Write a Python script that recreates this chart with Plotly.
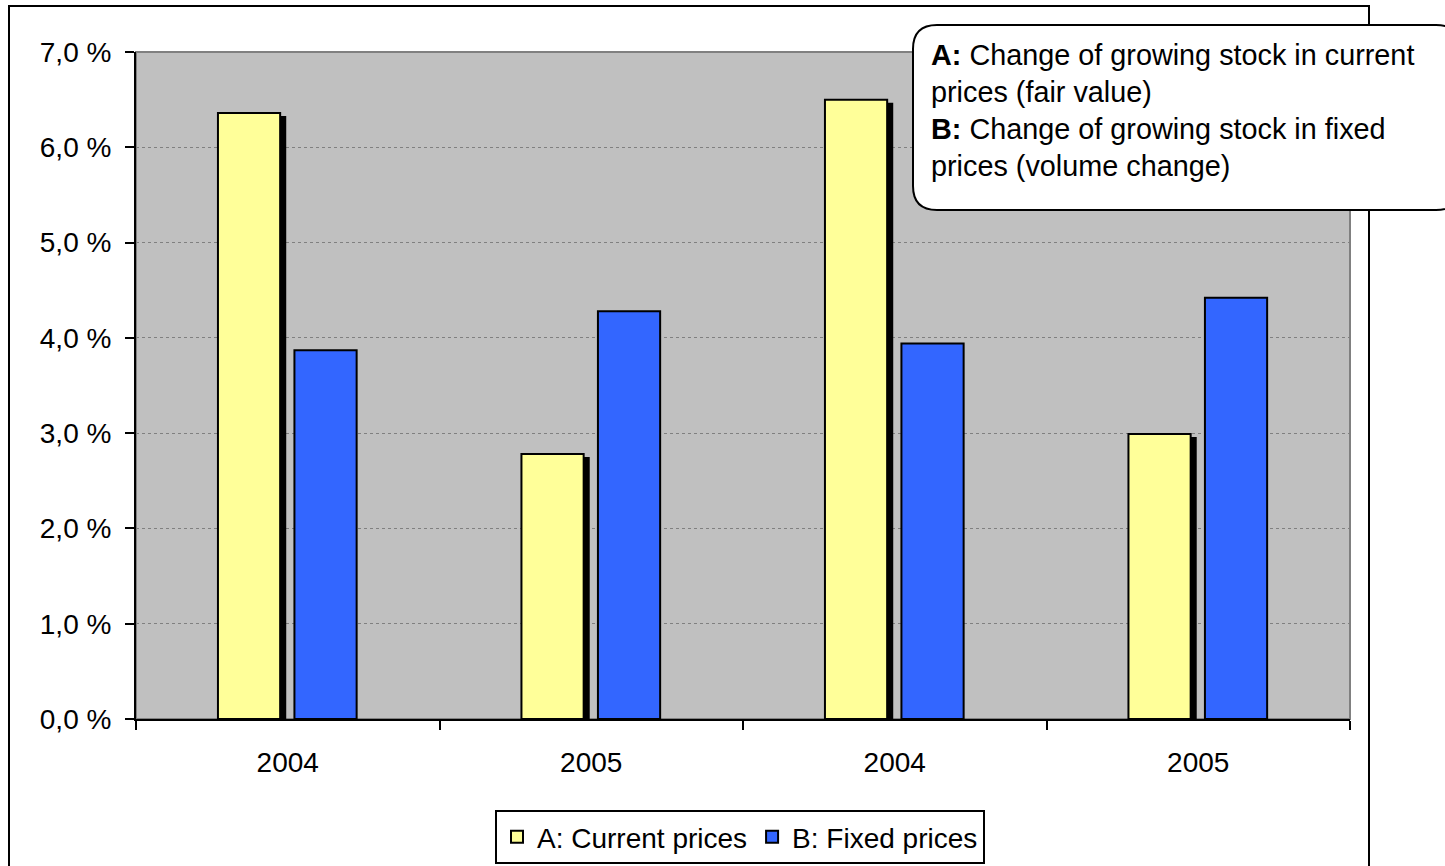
import plotly.graph_objects as go

categories = ["2004", "2005", "2004", "2005"]
current_prices = [6.36, 2.78, 6.50, 2.99]
fixed_prices = [3.87, 4.28, 3.94, 4.42]
y_ticks = [0, 1, 2, 3, 4, 5, 6, 7]
y_ticktext = ["0,0 %", "1,0 %", "2,0 %", "3,0 %", "4,0 %", "5,0 %", "6,0 %", "7,0 %"]
box_lines = [
    "<b>A:</b> Change of growing stock in current",
    "prices (fair value)",
    "<b>B:</b> Change of growing stock in fixed",
    "prices (volume change)",
]

W, H = 1445, 866
L, R, T, B = 136, 1350, 52, 719
FONT = "Liberation Sans, Arial, sans-serif"
FS = 28


def px(x):
    return (x - L) / (R - L)


def py(y):
    return (B - y) / (B - T)


xpos = list(range(len(categories)))
bw = 0.205
shadow_dy = 3 / ((B - T) / 7)

fig = go.Figure()
fig.add_trace(go.Bar(
    x=xpos, y=[v - shadow_dy for v in current_prices], width=bw, offset=-0.21,
    marker=dict(color="black", line=dict(width=0)), showlegend=False, hoverinfo="skip"))
fig.add_trace(go.Bar(
    x=xpos, y=current_prices, width=bw, offset=-0.23, name="A: Current prices",
    marker=dict(color="#FFFF99", line=dict(color="black", width=2))))
fig.add_trace(go.Bar(
    x=xpos, y=fixed_prices, width=bw, offset=0.022, name="B: Fixed prices",
    marker=dict(color="#3366FF", line=dict(color="black", width=2))))

shapes = []
# outer chart border
shapes.append(dict(type="rect", xref="paper", yref="paper",
                   x0=px(9), x1=px(1369), y0=py(875), y1=py(6),
                   line=dict(color="black", width=2), fillcolor="rgba(0,0,0,0)", layer="below"))
# plot area border (gray)
shapes.append(dict(type="rect", xref="paper", yref="paper",
                   x0=0, x1=1, y0=0, y1=1,
                   line=dict(color="#808080", width=2), fillcolor="rgba(0,0,0,0)", layer="below"))
# rounded annotation box
x0, x1, y0, y1, r = 913, 1460, 25, 210, 24
path = (f"M {px(x0 + r)},{py(y0)} L {px(x1 - r)},{py(y0)} "
        f"Q {px(x1)},{py(y0)} {px(x1)},{py(y0 + r)} "
        f"L {px(x1)},{py(y1 - r)} Q {px(x1)},{py(y1)} {px(x1 - r)},{py(y1)} "
        f"L {px(x0 + r)},{py(y1)} Q {px(x0)},{py(y1)} {px(x0)},{py(y1 - r)} "
        f"L {px(x0)},{py(y0 + r)} Q {px(x0)},{py(y0)} {px(x0 + r)},{py(y0)} Z")
shapes.append(dict(type="path", xref="paper", yref="paper", path=path,
                   line=dict(color="black", width=2), fillcolor="white", layer="above"))

annotations = []
line_y = [55, 92, 129, 166]
for txt, yy in zip(box_lines, line_y):
    annotations.append(dict(xref="paper", yref="paper", x=px(929), y=py(yy),
                            xanchor="left", yanchor="middle", text=txt, showarrow=False,
                            font=dict(family=FONT, size=28.8, color="black")))

fig.update_layout(
    width=W, height=H,
    margin=dict(l=L, r=W - R, t=T, b=H - B, autoexpand=False),
    paper_bgcolor="white", plot_bgcolor="#C0C0C0",
    barmode="overlay",
    font=dict(family=FONT, size=FS, color="black"),
    shapes=shapes, annotations=annotations,
    legend=dict(orientation="h", xref="container", yref="container",
                x=740 / W, xanchor="center", y=1 - 810 / H, yanchor="top",
                bordercolor="black", borderwidth=2, bgcolor="white",
                font=dict(family=FONT, size=FS, color="black"),
                itemwidth=30, tracegroupgap=0),
    xaxis=dict(range=[-0.5, 3.5], tickmode="array", tickvals=xpos, ticktext=categories,
               ticks="", showgrid=False, zeroline=False, automargin=False,
               showline=True, linecolor="black", linewidth=2,
               ticklabelstandoff=17,
               minor=dict(tickmode="array", tickvals=[-0.5, 0.5, 1.5, 2.5, 3.5],
                          ticks="outside", ticklen=9, tickwidth=2, tickcolor="black",
                          showgrid=False)),
    yaxis=dict(range=[0, 7], tickmode="array", tickvals=y_ticks, ticktext=y_ticktext,
               ticks="outside", ticklen=9, tickwidth=2, tickcolor="black",
               showgrid=True, gridcolor="#808080", gridwidth=1, griddash="dot",
               zeroline=False, showline=True, linecolor="black", linewidth=2,
               automargin=False, ticklabelstandoff=8),
)

fig.write_html("out.html")
